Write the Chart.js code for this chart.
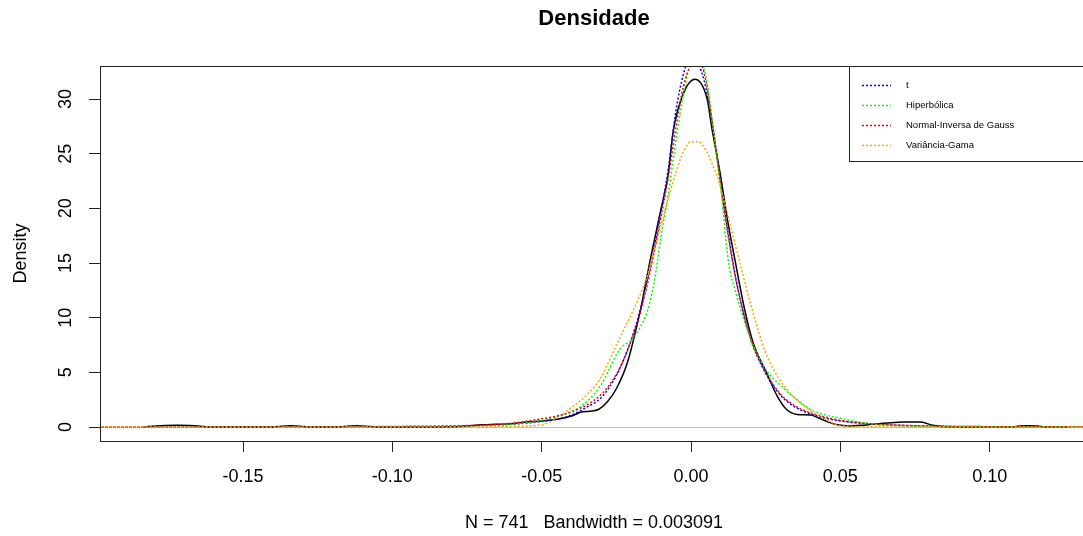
<!DOCTYPE html>
<html>
<head>
<meta charset="utf-8">
<script src="https://cdn.jsdelivr.net/npm/chart.js@4.4.0/dist/chart.umd.min.js"></script>
<style>
html, body { margin: 0; padding: 0; background: #fff; overflow: hidden; }
#wrap { width: 1083px; height: 536px; overflow: hidden; }
canvas { display: block; }
</style>
</head>
<body>
<div id="wrap"><canvas id="graph" width="1095" height="536"></canvas></div>
<script>
// x grid shared by the four fitted densities
const fitX = [-0.2, -0.15, -0.1, -0.08, -0.07, -0.06, -0.05, -0.045, -0.04, -0.035, -0.03, -0.025, -0.0225, -0.02,
  -0.0175, -0.015, -0.0125, -0.01, -0.0075, -0.005, -0.0025, 0, 0.0025, 0.005, 0.0075, 0.01, 0.0125, 0.015, 0.0175,
  0.02, 0.025, 0.03, 0.035, 0.04, 0.045, 0.05, 0.06, 0.07, 0.08, 0.1, 0.14];

const densT = [0.005, 0.01, 0.03, 0.07, 0.13, 0.25, 0.5, 0.7, 1.1, 1.8, 2.7, 4.7, 6.2, 8.0,
  10.2, 13.0, 16.2, 19.8, 23.8, 29.0, 32.3, 34.0, 33.2, 31.0, 27.0, 22.2, 17.6, 13.6, 10.5,
  8.0, 4.9, 2.9, 1.8, 1.2, 0.8, 0.55, 0.28, 0.15, 0.08, 0.03, 0.01];

const densHyp = [0.002, 0.005, 0.02, 0.05, 0.1, 0.25, 0.6, 0.95, 1.4, 2.3, 3.9, 6.6, 7.5, 7.9,
  8.9, 10.3, 13.0, 17.5, 21.5, 26.3, 30.5, 33.3, 33.6, 32.0, 27.0, 21.8, 15.2, 12.3, 10.0,
  8.0, 5.3, 3.8, 2.6, 1.6, 1.1, 0.8, 0.3, 0.1, 0.04, 0.01, 0.002];

const densNig = [0.005, 0.015, 0.05, 0.1, 0.18, 0.35, 0.75, 1.0, 1.4, 2.0, 3.0, 4.8, 6.2, 7.9,
  10.0, 12.6, 15.8, 19.3, 23.0, 27.5, 31.2, 33.1, 33.6, 31.6, 27.2, 22.0, 17.4, 13.5, 10.5,
  8.1, 5.0, 3.0, 1.9, 1.3, 0.9, 0.6, 0.3, 0.16, 0.09, 0.03, 0.01];

const densVg = [0, 0, 0, 0.005, 0.02, 0.06, 0.2, 0.8, 1.8, 2.9, 4.6, 7.5, 8.9, 10.3,
  11.8, 13.5, 16.0, 18.5, 21.0, 23.3, 25.2, 26.1, 26.1, 25.3, 23.8, 21.8, 19.2, 16.5, 13.8,
  11.2, 6.8, 4.2, 2.6, 1.5, 0.7, 0.12, 0.02, 0.005, 0, 0, 0];

// empirical kernel density (black line)
const kdeX = [-0.183, -0.179, -0.176, -0.172, -0.168, -0.165, -0.161, -0.14, -0.137, -0.134, -0.131, -0.128,
  -0.118, -0.115, -0.112, -0.109, -0.106, -0.09, -0.08, -0.075, -0.07, -0.065, -0.06, -0.055, -0.05, -0.045,
  -0.04, -0.037, -0.034, -0.031, -0.028, -0.025, -0.0214, -0.0171, -0.0135, -0.01, -0.0077, -0.006, -0.0027,
  0.0013, 0.0054, 0.007, 0.0097, 0.0125, 0.0147, 0.018, 0.0208, 0.0254, 0.0291, 0.032, 0.0355, 0.04, 0.043,
  0.046, 0.049, 0.053, 0.057, 0.063, 0.067, 0.071, 0.077, 0.081, 0.085, 0.1, 0.107, 0.11, 0.113, 0.116, 0.119, 0.126];
const kdeY = [0, 0.1, 0.14, 0.15, 0.14, 0.1, 0, 0, 0.08, 0.12, 0.08, 0,
  0, 0.08, 0.12, 0.08, 0, 0, 0.02, 0.1, 0.2, 0.25, 0.3, 0.45, 0.55, 0.7,
  1.0, 1.35, 1.45, 1.6, 2.3, 3.5, 5.8, 10.5, 15.5, 20.0, 23.0, 27.0, 30.4,
  31.8, 30.0, 27.3, 23.3, 18.5, 15.3, 10.7, 7.7, 4.9, 2.7, 1.6, 1.15, 1.1, 0.8,
  0.45, 0.2, 0.1, 0.15, 0.3, 0.4, 0.45, 0.45, 0.15, 0.02, 0, 0, 0.1, 0.12, 0.1, 0, 0];

const seriesNames = ['t', 'Hiperbólica', 'Normal-Inversa de Gauss', 'Variância-Gama'];
const seriesColors = ['#0000ff', '#00ff00', '#ff0000', '#ffa500'];

const xTickValues = [-0.15, -0.10, -0.05, 0, 0.05, 0.10];
const xTickLabels = ['-0.15', '-0.10', '-0.05', '0.00', '0.05', '0.10'];
const yTickValues = [0, 5, 10, 15, 20, 25, 30];
const yTickLabels = ['0', '5', '10', '15', '20', '25', '30'];

const mainTitle = 'Densidade';
const subTitle = 'N = 741   Bandwidth = 0.003091';
const yTitle = 'Density';

const FONT = '"Liberation Sans", Arial, sans-serif';

function pts(xs, ys) {
    return xs.map((x, i) => ({ x: x, y: ys[i] }));
}

const datasets = [{
    label: 'kde',
    data: pts(kdeX, kdeY),
    borderColor: '#000',
    borderWidth: 1.5,
    pointRadius: 0,
    cubicInterpolationMode: 'monotone',
    order: 10
}];
[densT, densHyp, densNig, densVg].forEach((ys, i) => {
    datasets.push({
        label: seriesNames[i],
        data: pts(fitX, ys),
        borderColor: seriesColors[i],
        borderWidth: 1.5,
        borderDash: [2, 2],
        pointRadius: 0,
        cubicInterpolationMode: 'monotone',
        order: 4 - i,
        fit: true
    });
});

function put(c, s, x, y, font, rot, align) {
    c.save();
    c.translate(x, y);
    if (rot) c.rotate(rot);
    c.font = font;
    c.fillStyle = '#000';
    c.textAlign = align || 'center';
    c.textBaseline = 'middle';
    c.fillText(s, 0, 0);
    c.restore();
}

// R-like decorations: zero line, box, texts and legend
const rPlot = {
    id: 'rPlot',
    beforeDatasetsDraw(chart) {
        const c = chart.ctx, a = chart.chartArea;
        const y0 = Math.round(chart.scales.y.getPixelForValue(0)) + 0.5;
        c.save();
        c.strokeStyle = '#bebebe';
        c.lineWidth = 1;
        c.beginPath();
        c.moveTo(a.left, y0);
        c.lineTo(a.right, y0);
        c.stroke();
        c.restore();
    },
    afterDraw(chart) {
        const c = chart.ctx, a = chart.chartArea;
        const xs = chart.scales.x, ys = chart.scales.y;
        c.save();
        c.strokeStyle = '#222';
        c.lineWidth = 1;
        c.strokeRect(a.left + 0.5, a.top + 0.5, a.right - a.left, a.bottom - a.top);
        c.restore();

        const cx = (a.left + a.right) / 2;
        put(c, mainTitle, cx, 19, 'bold 22px ' + FONT);
        put(c, subTitle, cx, 523, '18px ' + FONT);
        put(c, yTitle, 21, (a.top + a.bottom) / 2, '18px ' + FONT, -Math.PI / 2);
        xTickValues.forEach((v, i) => put(c, xTickLabels[i], xs.getPixelForValue(v), 477, '18px ' + FONT));
        yTickValues.forEach((v, i) => put(c, yTickLabels[i], 66, ys.getPixelForValue(v), '18px ' + FONT, -Math.PI / 2));

        // legend
        const lx = 849, ly = 66;
        c.save();
        c.fillStyle = '#fff';
        c.fillRect(lx, ly, a.right - lx + 10, 95);
        c.strokeStyle = '#222';
        c.lineWidth = 1;
        c.strokeRect(lx + 0.5, ly + 0.5, a.right - lx + 10, 95);
        chart.data.datasets.filter(d => d.fit).forEach((d, i) => {
            const y = ly + 19.5 + i * 20;
            c.strokeStyle = d.borderColor;
            c.lineWidth = 1.5;
            c.setLineDash(d.borderDash);
            c.beginPath();
            c.moveTo(862, y);
            c.lineTo(891, y);
            c.stroke();
            put(c, d.label, 906, y, '9.5px ' + FONT, 0, 'left');
        });
        c.restore();
    }
};

const chart = new Chart(document.getElementById('graph').getContext('2d'), {
    type: 'line',
    data: { datasets: datasets },
    options: {
        responsive: false,
        animation: false,
        devicePixelRatio: 1,
        events: [],
        layout: { padding: { left: 0, right: 7, top: 66, bottom: 0 } },
        plugins: { legend: { display: false }, tooltip: { enabled: false }, title: { display: false } },
        scales: {
            x: {
                type: 'linear',
                min: -0.19788,
                max: 0.13292,
                afterBuildTicks: s => { s.ticks = xTickValues.map(v => ({ value: v })); },
                afterFit: s => { s.height = 95; },
                ticks: { color: 'rgba(0,0,0,0)', autoSkip: false, maxRotation: 0 },
                grid: { drawOnChartArea: false, drawTicks: true, tickLength: 11, tickColor: '#222', color: '#222' },
                border: { display: false }
            },
            y: {
                type: 'linear',
                min: -1.2805,
                max: 33.019,
                afterBuildTicks: s => { s.ticks = yTickValues.map(v => ({ value: v })); },
                afterFit: s => { s.width = 100; },
                ticks: { color: 'rgba(0,0,0,0)', autoSkip: false },
                grid: { drawOnChartArea: false, drawTicks: true, tickLength: 11, tickColor: '#222', color: '#222' },
                border: { display: false }
            }
        }
    },
    plugins: [rPlot]
});
</script>
</body>
</html>
